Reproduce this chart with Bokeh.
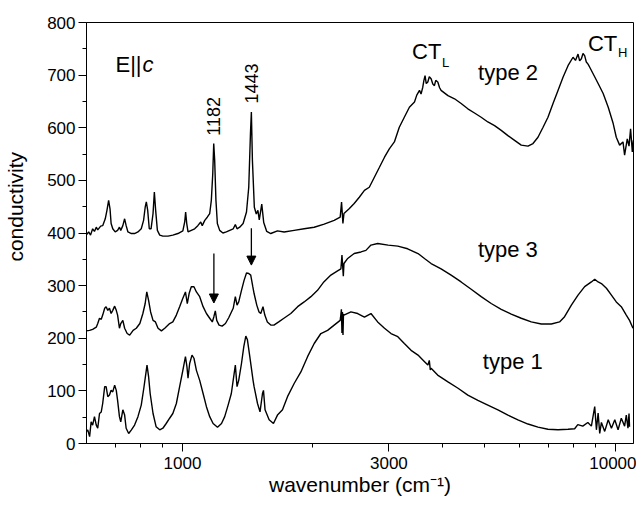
from math import pi
from bokeh.plotting import figure
from bokeh.models import Label, Arrow, NormalHead, FixedTicker, NumeralTickFormatter
from bokeh.embed import file_html
from bokeh.resources import INLINE

# ---- data (wavenumber in cm^-1, conductivity) ----
t1_wn = [599, 604, 610, 615, 620, 626, 632, 637, 643, 649, 654, 661, 666, 672, 678, 684, 690, 697, 703, 708,
         715, 720, 728, 735, 741, 751, 762, 775, 789, 803, 814, 821, 828, 835, 842, 855, 869, 886, 901, 917,
         934, 950, 968, 985, 1002, 1016, 1024, 1030, 1039, 1052, 1063, 1077, 1096, 1116, 1136, 1156, 1177,
         1205, 1231, 1252, 1275, 1297, 1315, 1325, 1337, 1349, 1369, 1386, 1401, 1413, 1431, 1456, 1464,
         1491, 1511, 1531, 1539, 1552, 1586, 1623, 1658, 1703, 1749, 1812, 1878, 1946, 2016, 2089, 2165,
         2242, 2315, 2320, 2330, 2337, 2343, 2350, 2356, 2362, 2451, 2541, 2634, 2727, 2826, 2931, 3034,
         3146, 3257, 3376, 3503, 3632, 3693, 3720, 3740, 3756, 3889, 4108, 4335, 4567, 4818, 5080, 5360,
         5653, 5962, 6290, 6634, 6996, 7380, 7784, 8063, 8200, 8420, 8650, 8815, 8973, 9054, 9137, 9215,
         9298, 9463, 9642, 9808, 9985, 10160, 10336, 10520, 10615, 10710, 10770, 10800]
t1_val = [22, 26, 13, 41, 35, 51, 35, 29, 57, 60, 76, 108, 108, 89, 92, 101, 98, 111, 101, 82,
          51, 41, 64, 54, 29, 19, 26, 35, 51, 73, 105, 127, 149, 127, 95, 57, 32, 26, 29, 38,
          48, 57, 76, 108, 139, 165, 146, 124, 152, 168, 162, 139, 120, 95, 70, 51, 38,
          31, 38, 51, 73, 95, 130, 149, 108, 120, 152, 184, 204, 197, 165, 120, 108,
          76, 60, 95, 101, 64, 45, 38, 54, 64, 89, 114, 136, 165, 190, 209, 215,
          225, 234, 240, 255, 210, 250, 206, 246, 244, 250, 247, 240, 247, 231, 219, 209,
          203, 190, 177, 168, 155, 149, 158, 140, 143, 130, 117, 105, 92, 82, 73, 64,
          54, 45, 37, 31, 27, 26, 27, 28, 36, 33, 40, 33, 70, 26, 58, 19,
          40, 23, 45, 29, 45, 26, 48, 33, 54, 29, 57, 32]

t3_wn = [599, 610, 620, 632, 637, 643, 649, 654, 661, 666, 672, 678, 684, 690, 697, 703, 708, 715, 720, 728,
         735, 745, 755, 769, 782, 797, 810, 820, 827, 835, 844, 855, 866, 878, 894, 910, 934, 950, 968, 985,
         1002, 1016, 1026, 1036, 1048, 1063, 1077, 1096, 1116, 1136, 1156, 1172, 1182, 1191, 1200, 1215,
         1235, 1257, 1279, 1310, 1325, 1337, 1349, 1369, 1388, 1406, 1423, 1438, 1454, 1464, 1485, 1503,
         1517, 1535, 1550, 1571, 1600, 1627, 1669, 1716, 1780, 1846, 1911, 1981, 2052, 2122, 2203, 2283,
         2324, 2337, 2354, 2362, 2405, 2494, 2586, 2655, 2727, 2826, 2988, 3146, 3315, 3503, 3632, 3756,
         3961, 4178, 4407, 4649, 4903, 5172, 5455, 5754, 6069, 6401, 6752, 7122, 7441, 7643, 7924, 8210,
         8505, 8815, 8973, 9137, 9298, 9550, 9808, 10064, 10336, 10615, 10800, 11000]
t3_val = [214, 215, 217, 221, 228, 238, 236, 244, 257, 260, 253, 257, 247, 253, 261, 253, 244, 219, 228, 234,
          219, 209, 206, 215, 219, 228, 247, 266, 288, 272, 250, 234, 231, 219, 214, 219, 228, 231, 244, 260,
          276, 288, 266, 285, 298, 298, 288, 279, 260, 247, 238, 231, 241, 252, 234, 225,
          223, 228, 239, 257, 279, 263, 269, 291, 310, 324, 323, 320, 298, 285, 263, 250,
          247, 260, 244, 231, 225, 225, 231, 238, 247, 260, 269, 279, 291, 307, 320, 328,
          332, 358, 318, 342, 351, 361, 364, 367, 377, 380, 377, 375, 370, 361, 351, 342,
          332, 320, 307, 293, 279, 266, 255, 246, 238, 231, 227, 227, 231, 241, 263, 282,
          298, 307, 312, 307, 304, 295, 282, 269, 260, 244, 234, 219]

t2_wn = [599, 607, 613, 620, 626, 632, 637, 647, 654, 663, 669, 675, 680, 684, 690, 699, 708, 715, 720, 728,
         735, 741, 748, 762, 775, 789, 803, 813, 820, 825, 831, 838, 846, 855, 861, 867, 875, 886, 901, 926,
         950, 976, 1002, 1012, 1017, 1023, 1030, 1048, 1067, 1085, 1102, 1111, 1126, 1141, 1156, 1166, 1175,
         1181, 1187, 1195, 1204, 1219, 1240, 1263, 1286, 1310, 1325, 1337, 1356, 1381, 1406, 1423, 1436,
         1443, 1451, 1466, 1481, 1494, 1505, 1525, 1541, 1566, 1600, 1658, 1718, 1812, 1911, 2016, 2126,
         2242, 2315, 2332, 2349, 2362, 2428, 2494, 2563, 2634, 2703, 2777, 2853, 2931, 3007, 3089, 3171,
         3257, 3346, 3438, 3480, 3531, 3560, 3593, 3615, 3637, 3660, 3691, 3720, 3756, 3790, 3823, 3850,
         3892, 3930, 3961, 4108, 4255, 4407, 4567, 4732, 4903, 5080, 5265, 5455, 5653, 5857, 6069, 6290,
         6460, 6634, 6816, 6996, 7187, 7380, 7580, 7784, 7994, 8100, 8210, 8280, 8358, 8430, 8505, 8580,
         8660, 8750, 8890, 9137, 9385, 9642, 9900, 10064, 10245, 10430, 10520, 10670, 10770, 10860, 10960,
         11019]
t2_val = [396, 402, 396, 408, 403, 411, 406, 413, 414, 427, 443, 462, 446, 418, 408, 402, 405, 411, 405, 414,
          427, 414, 402, 399, 399, 402, 408, 424, 449, 459, 443, 408, 408, 437, 478, 443, 405, 396, 394, 394,
          396, 399, 404, 421, 440, 418, 402, 405, 408, 414, 421, 414, 424, 430, 437, 462, 513,
          570, 538, 462, 418, 405, 400, 402, 405, 408, 416, 408, 411, 418, 440, 487, 589,
          630, 538, 449, 436, 443, 425, 455, 420, 403, 399, 404, 402, 405, 408, 411, 417,
          424, 430, 459, 418, 437, 446, 456, 468, 481, 487, 506, 525, 544, 560, 573, 601,
          620, 639, 649, 662, 671, 664, 677, 690, 699, 684, 687, 697, 693, 683, 680, 690,
          687, 676, 671, 661, 655, 646, 636, 628, 620, 611, 604, 595, 585, 576, 567, 565,
          570, 582, 601, 620, 646, 671, 696, 718, 734, 728, 740, 727, 731, 741, 737, 725,
          721, 714, 703, 684, 665, 639, 608, 582, 567, 573, 548, 579, 565, 598, 554,
          576]

x_major = [1000, 3000, 10000]
x_minor = [700, 800, 900, 2000, 4000, 5000, 6000, 7000, 8000, 9000]
y_major = [0, 100, 200, 300, 400, 500, 600, 700, 800]
y_minor = [50, 150, 250, 350, 450, 550, 650, 750]

FONT = "Liberation Sans"

p = figure(width=636, height=500, x_axis_type="log", x_range=(600, 11030), y_range=(0, 800),
           output_backend="svg", toolbar_location=None,
           min_border_left=86, min_border_top=22, min_border_right=3, min_border_bottom=57)
p.background_fill_color = "white"
p.border_fill_color = "white"
p.outline_line_color = "black"
p.outline_line_width = 1
p.grid.visible = False

for wn, val in ((t1_wn, t1_val), (t3_wn, t3_val), (t2_wn, t2_val)):
    p.line(wn, val, line_color="black", line_width=1.4)

# axes
p.xaxis.ticker = FixedTicker(ticks=x_major, minor_ticks=x_minor)
p.xaxis.formatter = NumeralTickFormatter(format="0")
p.yaxis.ticker = FixedTicker(ticks=y_major, minor_ticks=y_minor)
for ax in (p.xaxis, p.yaxis):
    ax.axis_line_color = "black"
    ax.major_tick_line_color = "black"
    ax.minor_tick_line_color = "black"
    ax.major_tick_in = 0
    ax.major_tick_out = 8
    ax.minor_tick_in = 0
    ax.minor_tick_out = 4
    ax.major_label_text_font = FONT
    ax.major_label_text_font_size = "17px"
    ax.major_label_text_color = "black"
    ax.axis_label_text_font = FONT
    ax.axis_label_text_font_size = "21px"
    ax.axis_label_text_font_style = "normal"
    ax.axis_label_text_color = "black"
p.xaxis.axis_label = "wavenumber (cm\u207b\u00b9)"
p.yaxis.axis_label = "\u00a0" * 9 + "conductivity"
p.xaxis.major_label_standoff = 5
p.xaxis.axis_label_standoff = 1
p.yaxis.major_label_standoff = 3
p.yaxis.axis_label_standoff = 17


def lab(x, y, text, size, **kw):
    p.add_layout(Label(x=x, y=y, text=text, text_font=FONT, text_font_size=f"{size}px",
                       text_color="black", **kw))


lab(700, 697, "E||", 22)
lab(700, 697, "c", 22, x_offset=27, text_font_style="italic")
lab(1182, 585, "1182", 18, angle=pi / 2, text_align="left", text_baseline="middle")
lab(1443, 646, "1443", 18, angle=pi / 2, text_align="left", text_baseline="middle")
lab(3394, 722, "CT", 22)
lab(3394, 710, "L", 13, x_offset=30)
lab(8655, 737, "CT", 22)
lab(8655, 728, "H", 13, x_offset=30)
lab(4824, 682, "type 2", 22)
lab(4818, 345, "type 3", 22)
lab(4946, 133, "type 1", 22)

for xa, y0, y1 in ((1182, 361, 267), (1443, 409, 339)):
    p.add_layout(Arrow(end=NormalHead(size=9, fill_color="black", line_color="black"),
                       x_start=xa, y_start=y0, x_end=xa, y_end=y1,
                       line_color="black", line_width=1.3))

open("out.html", "w").write(file_html(p, INLINE))
